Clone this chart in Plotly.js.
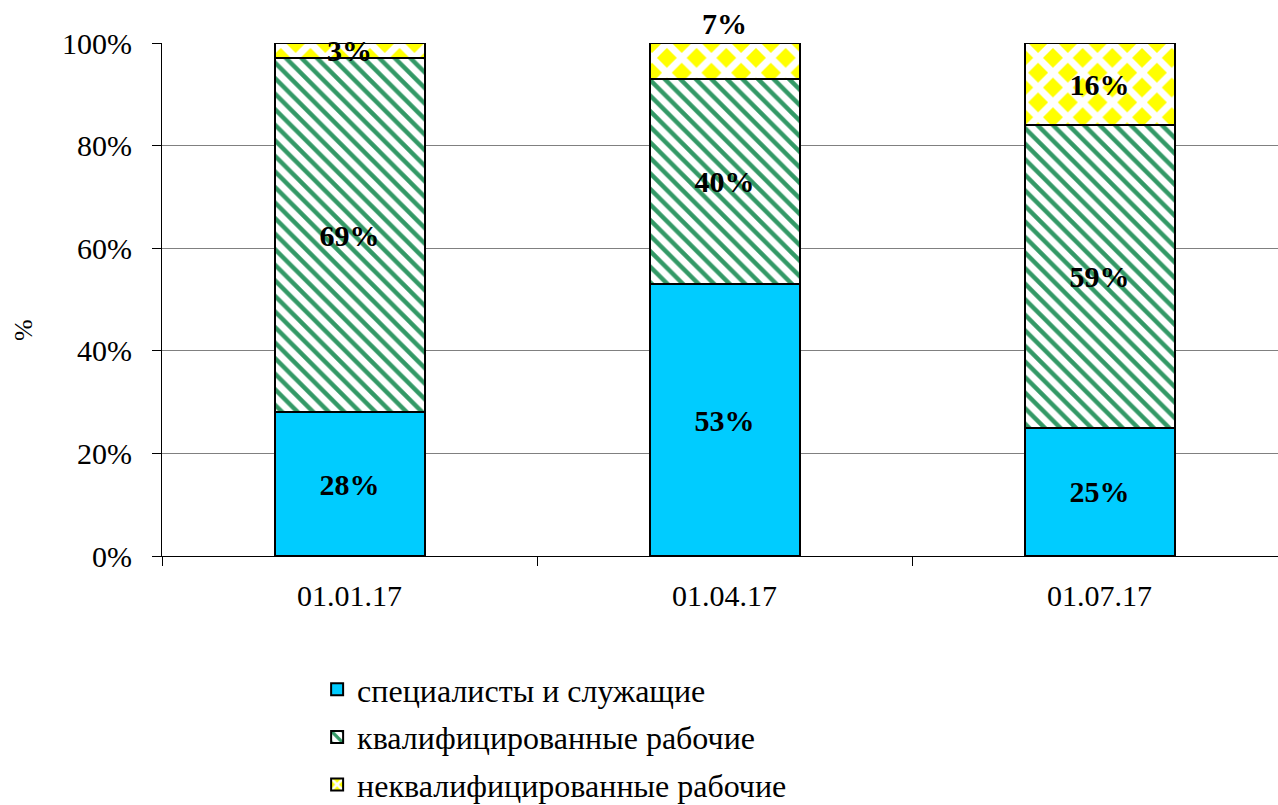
<!DOCTYPE html>
<html>
<head>
<meta charset="utf-8">
<script src="https://cdn.plot.ly/plotly-3.0.1.min.js"></script>
<style>html,body{margin:0;padding:0;background:#fff;}#chart{width:1278px;height:805px;}</style>
</head>
<body>
<div id="chart"></div>
<script>
const categories = ['01.01.17', '01.04.17', '01.07.17'];
const seriesNames = ['специалисты и служащие', 'квалифицированные рабочие', 'неквалифицированные рабочие'];
const specialists = [28, 53, 25];
const qualified = [69, 40, 59];
const unqualified = [3, 7, 16];
const yTickVals = [0, 20, 40, 60, 80, 100];
const yTickText = ['0%', '20%', '40%', '60%', '80%', '100%'];
const yAxisLabel = '%';

const serif = 'Liberation Serif';
const labelFont = {family: serif, size: 30, color: '#000', weight: 'bold'};
function pct(arr){ return arr.map(v => v + '%'); }

const common = {
  type: 'bar', x: categories, hoverinfo: 'none', textangle: 0,
  constraintext: 'none', insidetextanchor: 'middle', cliponaxis: false,
  textfont: labelFont, insidetextfont: labelFont, outsidetextfont: labelFont
};

const traces = [
  Object.assign({}, common, {
    name: seriesNames[0], y: specialists, text: pct(specialists), textposition: 'inside',
    marker: {color: '#00CCFF', line: {color: '#000', width: 2}}, legendgroup: 'a'
  }),
  Object.assign({}, common, {
    name: seriesNames[1], y: qualified, text: pct(qualified), textposition: 'inside',
    marker: {color: '#ffffff', line: {color: '#000', width: 2},
      pattern: {shape: '\\', fgcolor: '#339966', bgcolor: '#ffffff', size: 11, solidity: 0.4}}, legendgroup: 'b'
  }),
  Object.assign({}, common, {
    name: seriesNames[2], y: unqualified, text: pct(unqualified), textposition: ['inside', 'outside', 'inside'],
    marker: {color: '#ffffff', line: {color: '#000', width: 2},
      pattern: {shape: 'x', fgcolor: '#ffffff', bgcolor: '#FFFF00', size: 21, solidity: 0.55}}, legendgroup: 'c'
  })
];

const axisFont = {family: serif, size: 30, color: '#000'};

const layout = {
  width: 1278, height: 805,
  margin: {l: 162, r: 0, t: 43, b: 249},
  paper_bgcolor: '#fff', plot_bgcolor: '#fff',
  barmode: 'stack', bargap: 0.6,
  font: axisFont,
  showlegend: true,
  legend: {x: 0.139, xref: 'paper', y: 0.1776, yref: 'container', xanchor: 'left', yanchor: 'top', orientation: 'v',
    font: {family: serif, size: 32, color: '#000'}, tracegroupgap: 3, traceorder: 'grouped',
    itemwidth: 30, bgcolor: 'rgba(0,0,0,0)'},
  xaxis: {
    type: 'category', range: [-0.5, 2.476], fixedrange: true, automargin: false,
    showline: true, linecolor: '#000', linewidth: 1,
    ticks: 'outside', tickson: 'boundaries', ticklen: 9, tickcolor: '#000',
    ticklabelstandoff: 13,
    tickfont: axisFont, showgrid: false, zeroline: false
  },
  yaxis: {
    range: [0, 100], tickvals: yTickVals, ticktext: yTickText, fixedrange: true, automargin: false,
    showline: true, linecolor: '#000', linewidth: 1,
    ticks: 'outside', ticklen: 9, tickcolor: '#000',
    ticklabelstandoff: 14,
    tickfont: axisFont,
    showgrid: true, gridcolor: '#808080', gridwidth: 1, zeroline: false
  },
  annotations: [{
    text: yAxisLabel, xref: 'paper', yref: 'paper', x: -0.1246, y: 0.4405,
    xanchor: 'center', yanchor: 'middle', showarrow: false, textangle: -90,
    font: {family: serif, size: 26, color: '#000'}
  }]
};

Plotly.newPlot('chart', traces, layout, {displayModeBar: false, staticPlot: true});
</script>
</body>
</html>
